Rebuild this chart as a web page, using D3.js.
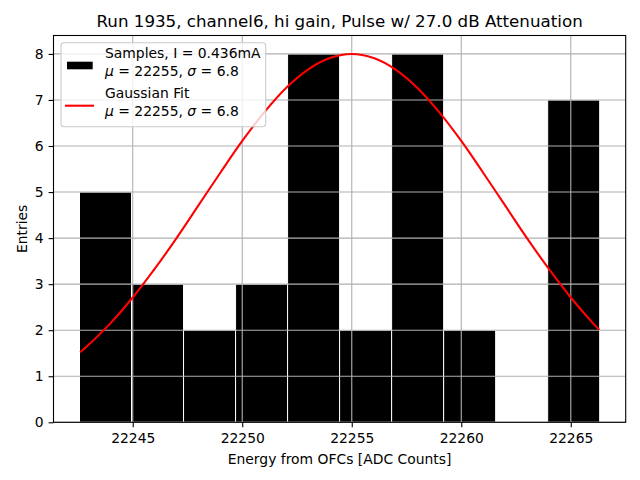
<!DOCTYPE html>
<html><head><meta charset="utf-8">
<script src="https://cdn.jsdelivr.net/npm/d3@7"></script>
<style>body{margin:0;background:#fff}svg{display:block;font-family:"DejaVu Sans",sans-serif}</style>
</head><body><svg id="c" width="640" height="480"></svg>
<script>
// Histogram data
const binEdges = [22242.57, 22244.945, 22247.32, 22249.695, 22252.07, 22254.445, 22256.82, 22259.195, 22261.57, 22263.945, 22266.32];
const counts = [5, 3, 2, 3, 8, 2, 8, 2, 0, 7];
// Gaussian fit curve
const fitX = [22242.6, 22243, 22244, 22245, 22246, 22247, 22248, 22249, 22250, 22251, 22252, 22253, 22254, 22255, 22256, 22257, 22258, 22259, 22260, 22261, 22262, 22263, 22264, 22265, 22266, 22266.3];
const fitY = [1.52, 1.69, 2.16, 2.71, 3.33, 4.00, 4.71, 5.42, 6.11, 6.73, 7.26, 7.66, 7.91, 8.00, 7.91, 7.66, 7.26, 6.73, 6.11, 5.42, 4.71, 4.00, 3.33, 2.71, 2.16, 2.01];
const xTicks = [22245, 22250, 22255, 22260, 22265];
const yTicks = [0, 1, 2, 3, 4, 5, 6, 7, 8];
const title = "Run 1935, channel6, hi gain, Pulse w/ 27.0 dB Attenuation";
const xLabel = "Energy from OFCs [ADC Counts]";
const yLabel = "Entries";

const L = 53.5, R = 625.7, T = 35.5, B = 422.3;
const svg = d3.select("#c");
const span = binEdges[binEdges.length-1] - binEdges[0];
const x = d3.scaleLinear().domain([binEdges[0] - 0.05*span, binEdges[binEdges.length-1] + 0.05*span]).range([L, R]);
const y = d3.scaleLinear().domain([0, 8.4]).range([B, T]);

const bins = counts.map((c, i) => ({x0: binEdges[i], x1: binEdges[i+1], c}));
svg.append("g").selectAll("rect").data(bins.filter(d => d.c > 0)).join("rect")
  .attr("x", d => x(d.x0)).attr("width", d => x(d.x1) - x(d.x0))
  .attr("y", d => y(d.c)).attr("height", d => y(0) - y(d.c))
  .attr("fill", "#000").attr("stroke", "#fff").attr("stroke-width", 1);

// grid (above patches)
const grid = svg.append("g").attr("stroke", "#b0b0b0").attr("stroke-width", 1.1);
grid.selectAll(".gx").data(xTicks).join("line").attr("x1", d => x(d)).attr("x2", d => x(d)).attr("y1", T).attr("y2", B);
grid.selectAll(".gy").data(yTicks).join("line").attr("y1", d => y(d)).attr("y2", d => y(d)).attr("x1", L).attr("x2", R);

// fit line
const pts = fitX.map((v, i) => [v, fitY[i]]);
svg.append("path").datum(pts)
  .attr("d", d3.line().x(d => x(d[0])).y(d => y(d[1])).curve(d3.curveCatmullRom))
  .attr("fill", "none").attr("stroke", "#ff0000").attr("stroke-width", 2.08);

// axes
const fs = 13.9;
const xAxis = d3.axisBottom(x).tickValues(xTicks).tickSize(4.9).tickPadding(4.9).tickFormat(d3.format("d"));
const gx = svg.append("g").attr("transform", `translate(0,${B})`).call(xAxis);
const yAxis = d3.axisLeft(y).tickValues(yTicks).tickSize(4.9).tickPadding(4.9).tickFormat(d3.format("d"));
const gy = svg.append("g").attr("transform", `translate(${L},0)`).call(yAxis);
[gx, gy].forEach(g => {
  g.select(".domain").remove();
  g.selectAll(".tick line").attr("stroke", "#000").attr("stroke-width", 1.1);
  g.selectAll(".tick text").attr("font-size", fs).attr("font-family", "DejaVu Sans").attr("fill", "#000");
});
gx.selectAll(".tick text").attr("dy", "0.76em");

// spines
svg.append("rect").attr("x", L).attr("y", T).attr("width", R - L).attr("height", B - T)
  .attr("fill", "none").attr("stroke", "#000").attr("stroke-width", 1.1);

// titles
svg.append("text").attr("x", (L + R) / 2).attr("y", 27.2).attr("text-anchor", "middle").attr("font-size", 16.7).text(title);
svg.append("text").attr("x", (L + R) / 2).attr("y", 464).attr("text-anchor", "middle").attr("font-size", fs).text(xLabel);
svg.append("text").attr("transform", `translate(26.5,${(T + B) / 2}) rotate(-90)`).attr("text-anchor", "middle").attr("font-size", fs).text(yLabel);

// legend
const lg = svg.append("g");
lg.append("rect").attr("x", 61).attr("y", 42.7).attr("width", 204.7).attr("height", 84).attr("rx", 3)
  .attr("fill", "#fff").attr("fill-opacity", 0.8).attr("stroke", "#cccccc").attr("stroke-width", 1.1);
lg.append("rect").attr("x", 67).attr("y", 61.7).attr("width", 25.7).attr("height", 7.6).attr("fill", "#000");
lg.append("line").attr("x1", 65).attr("x2", 94).attr("y1", 105.7).attr("y2", 105.7).attr("stroke", "#ff0000").attr("stroke-width", 2.08);
const muSig = (t, yy) => {
  const tx = lg.append("text").attr("x", 105).attr("y", yy).attr("font-size", fs);
  tx.append("tspan").attr("font-style", "italic").text("μ");
  tx.append("tspan").text(" = 22255, ");
  tx.append("tspan").attr("font-style", "italic").text("σ");
  tx.append("tspan").text(" = 6.8");
};
lg.append("text").attr("x", 105).attr("y", 58.3).attr("font-size", fs).text("Samples, I = 0.436mA");
muSig(null, 75.7);
lg.append("text").attr("x", 105).attr("y", 98.3).attr("font-size", fs).text("Gaussian Fit");
muSig(null, 115.7);
</script></body></html>
